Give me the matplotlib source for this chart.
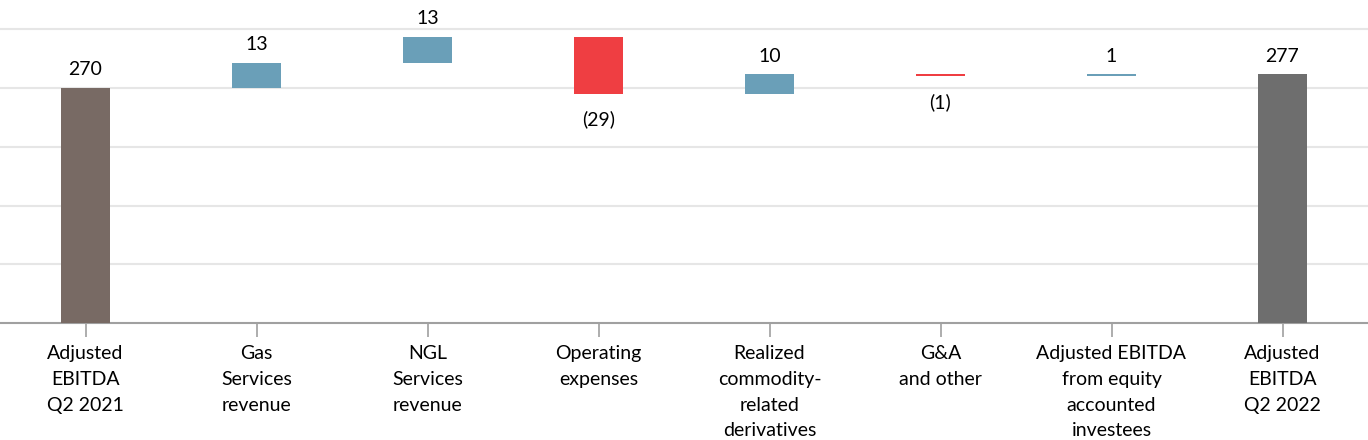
import numpy as np
import matplotlib.pyplot as plt

# ── data ───────────────────────────────────────────────────────────────────────
categories = ['Adjusted\nEBITDA\nQ2 2021', 'Gas\nServices\nrevenue', 'NGL\nServices\nrevenue',
              'Operating\nexpenses', 'Realized\ncommodity-\nrelated\nderivatives',
              'G&A\nand other', 'Adjusted EBITDA\nfrom equity\naccounted\ninvestees',
              'Adjusted\nEBITDA\nQ2 2022']
start_total = 270
changes = [13, 13, -29, 10, -1, 1]
end_total = 277

# ── build waterfall geometry ───────────────────────────────────────────────────
bottoms, heights, colors = [0], [start_total], ['#786a64']
running = start_total
for c in changes:
    bottoms.append(running if c > 0 else running + c)
    heights.append(abs(c))
    colors.append('#6a9fb8' if c > 0 else '#ef3e42')
    running += c
bottoms.append(0)
heights.append(end_total)
colors.append('#6e6e6e')

labels = [str(start_total)] + [str(c) if c > 0 else f'({-c})' for c in changes] + [str(end_total)]
signs = [1] + [1 if c > 0 else -1 for c in changes] + [1]

plt.rcParams['font.family'] = ['Lato', 'DejaVu Sans']

fig = plt.figure(figsize=(13.68, 4.4), dpi=100)
ax = fig.add_axes([0, 1 - 323 / 440, 1, 323 / 440])

x = np.arange(len(categories))
ax.bar(x, heights, bottom=bottoms, width=0.29, color=colors, zorder=3)

for xi, b, h, lab, s in zip(x, bottoms, heights, labels, signs):
    if s > 0:
        ax.annotate(lab, (xi, b + h), xytext=(0, 7), textcoords='offset points',
                    ha='center', va='bottom', fontsize=14, color='black')
    else:
        ax.annotate(lab, (xi, b), xytext=(0, -12), textcoords='offset points',
                    ha='center', va='top', fontsize=14, color='black')

ax.set_xlim(-0.5, len(categories) - 0.5)
ax.set_ylim(150, 315)
ax.set_yticks([180, 210, 240, 270, 300])
ax.yaxis.grid(True, color='#e6e6e6', linewidth=1.5, zorder=0)
ax.set_yticklabels([])
ax.tick_params(axis='y', length=0)

ax.set_xticks(x)
ax.set_xticklabels(categories, fontsize=14)
for t in ax.get_xticklabels():
    t.set_linespacing(1.62)
ax.tick_params(axis='x', length=10, width=1.2, color='#a0a0a0', pad=6)

for side in ['top', 'right', 'left']:
    ax.spines[side].set_visible(False)
ax.spines['bottom'].set_color('#a0a0a0')
ax.spines['bottom'].set_linewidth(1.5)

fig.savefig('out.png', dpi=100)
